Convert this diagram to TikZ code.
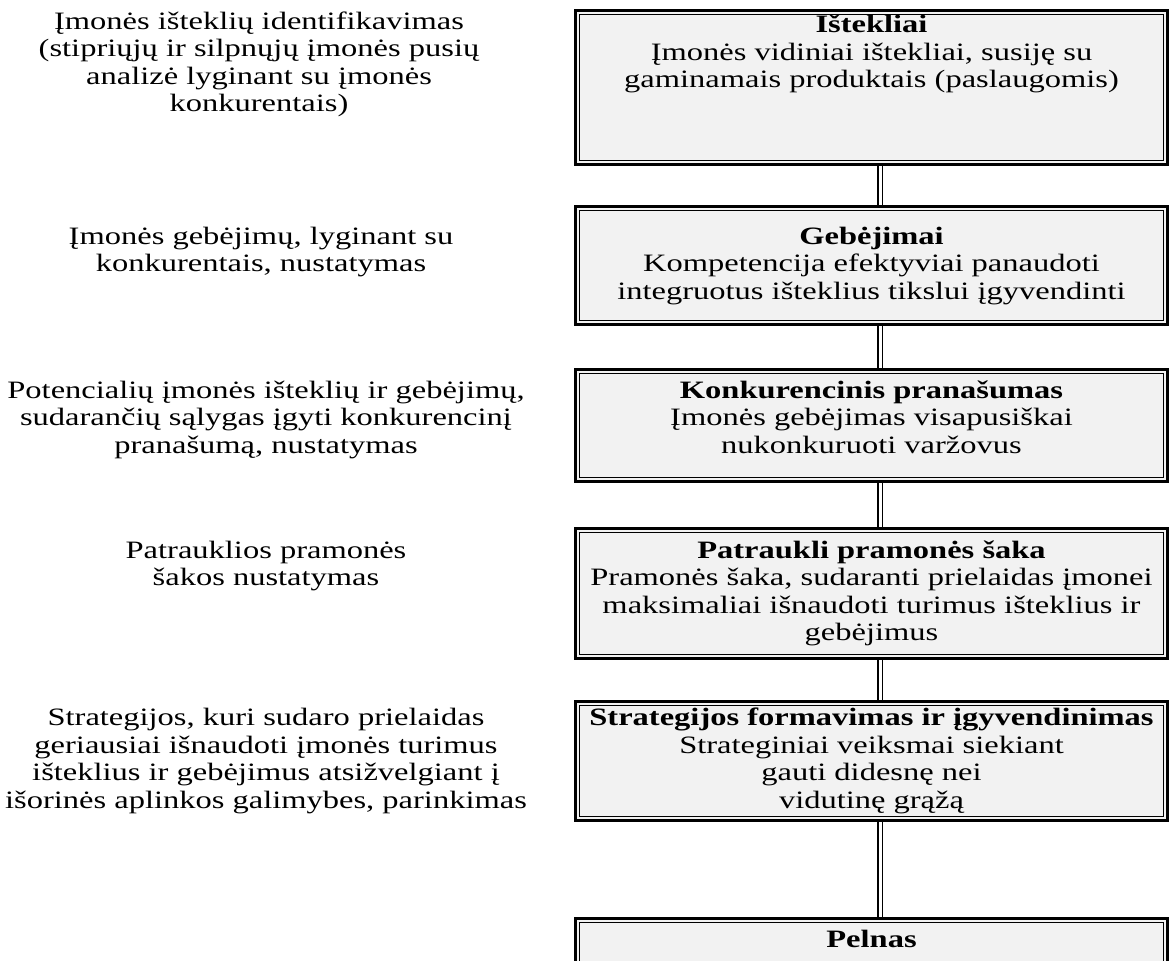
\documentclass[tikz,border=0pt]{standalone}
\usepackage{fontspec}
\usepackage{graphicx}
\setmainfont{Liberation Serif}
\usetikzlibrary{backgrounds}
\definecolor{boxfill}{HTML}{F2F2F2}
\newcommand\diagfont{\fontsize{12.5}{13.75}\selectfont}
% centred lines of text, baseline on the first line, set wide
\newcommand\stack[2]{\scalebox{#1}[1]{\begin{tabular}[t]{@{}c@{}}#2\end{tabular}}}
\newcommand\stagelines[1]{\stack{1.3}{#1}}
\newcommand\notelines[1]{\stack{1.3}{#1}}
\tikzset{
  stage/.style={draw, line width=1.5pt, fill=boxfill, outer sep=0pt,
    minimum width=296pt, inner sep=0pt, anchor=north},
  words/.style={anchor=base, inner sep=0pt, font=\diagfont},
  innerframe/.style={line width=0.75pt},
  link/.style={line width=0.75pt, double=white, double distance=1.5pt}
}
\begin{document}
\begin{tikzpicture}[x=0.5pt, y=-0.5pt]
\useasboundingbox (0,0) rectangle (1169,960);
\clip (0,0) rectangle (1169,960);

% frames of the stages
\node[stage, minimum height=77pt]   (b1) at (871.5,10.5) {};
\node[stage, minimum height=59pt]   (b2) at (871.5,206.5) {};
\node[stage, minimum height=56pt]   (b3) at (871.5,369.5) {};
\node[stage, minimum height=65pt]   (b4) at (871.5,528.5) {};
\node[stage, minimum height=59.5pt] (b5) at (871.5,701.5) {};
\node[stage, minimum height=40pt]   (b6) at (871.5,918.5) {};

% thin inner line of each double frame
\foreach \n in {b1,b2,b3,b4,b5,b6}
  \draw[innerframe] ([shift={(2.1pt,-2.1pt)}]\n.north west)
    rectangle ([shift={(-2.1pt,2.1pt)}]\n.south east);

% double connectors between the stages
\begin{pgfonlayer}{background}
\fill[white] (0,0) rectangle (1169,960);
\foreach \a/\b in {b1/b2,b2/b3,b3/b4,b4/b5,b5/b6}
  \draw[link] ([xshift=4.25pt]\a.south) -- ([xshift=4.25pt]\b.north);
\end{pgfonlayer}

% texts of the stages
\node[words] (t1) at (871.5,32.5)
  {\stagelines{\textbf{Ištekliai}\\Įmonės vidiniai ištekliai, susiję su\\gaminamais produktais (paslaugomis)}};
\node[words] (t2) at (871.5,244)
  {\stagelines{\textbf{Gebėjimai}\\Kompetencija efektyviai panaudoti\\integruotus išteklius tikslui įgyvendinti}};
\node[words] (t3) at (871.5,398)
  {\stagelines{\textbf{Konkurencinis pranašumas}\\Įmonės gebėjimas visapusiškai\\nukonkuruoti varžovus}};
\node[words] (t4) at (871.5,558)
  {\stagelines{\textbf{Patraukli pramonės šaka}\\Pramonės šaka, sudaranti prielaidas įmonei\\maksimaliai išnaudoti turimus išteklius ir\\gebėjimus}};
\node[words] (t5) at (871.5,725.5)
  {\stagelines{\textbf{Strategijos formavimas ir įgyvendinimas}\\Strateginiai veiksmai siekiant\\gauti didesnę nei\\vidutinę grąžą}};
\node[words] (t6) at (871.5,947.5)
  {\stagelines{\textbf{Pelnas}}};

% analysis steps on the left
\node[words] (n1) at (259,29)
  {\notelines{Įmonės išteklių identifikavimas\\(stipriųjų ir silpnųjų įmonės pusių\\analizė lyginant su įmonės\\konkurentais)}};
\node[words] (n2) at (261,244)
  {\notelines{Įmonės gebėjimų, lyginant su\\konkurentais, nustatymas}};
\node[words] (n3) at (266,398)
  {\notelines{Potencialių įmonės išteklių ir gebėjimų,\\sudarančių sąlygas įgyti konkurencinį\\pranašumą, nustatymas}};
\node[words] (n4) at (266,558)
  {\notelines{Patrauklios pramonės\\šakos nustatymas}};
\node[words] (n5) at (266,725.5)
  {\notelines{Strategijos, kuri sudaro prielaidas\\geriausiai išnaudoti įmonės turimus\\išteklius ir gebėjimus atsižvelgiant į\\išorinės aplinkos galimybes, parinkimas}};
\end{tikzpicture}
\end{document}
